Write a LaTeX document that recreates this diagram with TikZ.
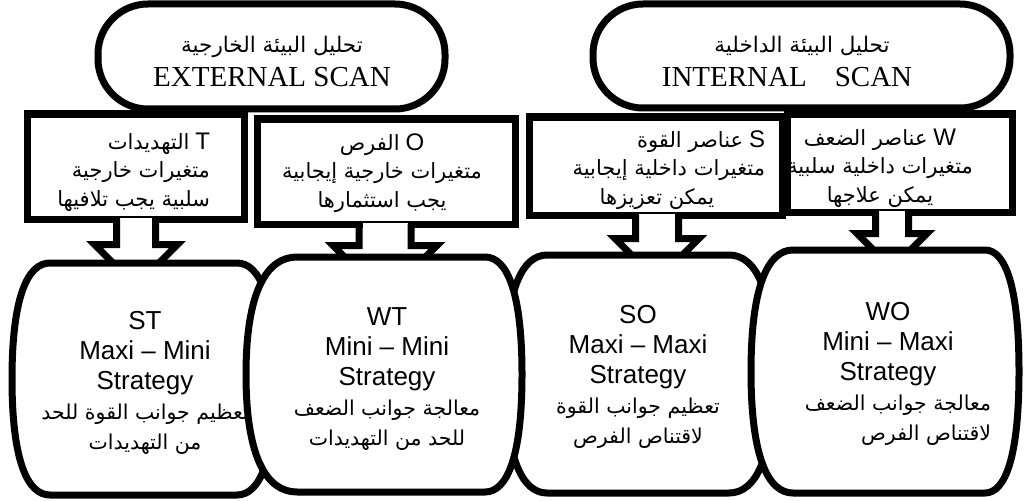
\documentclass[tikz,border=0pt]{standalone}
\usepackage{fontspec}
\setmainfont{Liberation Sans}
\newfontfamily\arabicfont[Script=Arabic]{DejaVu Sans}
\newfontfamily\enserif{Liberation Serif}
\TeXXeTstate=1
\usetikzlibrary{calc}
\newcommand\artxt[1]{{\arabicfont\beginR #1\endR}}
\newcommand\arline[1]{{\fontsize{20.5}{30}\selectfont\artxt{#1}}}
\newcommand\lat[1]{{\fontsize{24}{28}\selectfont #1}}
% barrel: #1 xL corner, #2 xR corner, #3 left bulge, #4 right bulge, #5 top, #6 bottom
\newcommand\drawbarrel[6]{%
  \path[barrelsty] (#1,#5) -- (#2,#5)
   .. controls ({#2+0.6*#4},#5) and ({#2+#4},{#5+0.15*(#6-#5)}) .. ({#2+#4},{(#5+#6)/2})
   .. controls ({#2+#4},{#6-0.15*(#6-#5)}) and ({#2+0.6*#4},#6) .. (#2,#6)
   -- (#1,#6)
   .. controls ({#1-0.6*#3},#6) and ({#1-#3},{#6-0.15*(#6-#5)}) .. ({#1-#3},{(#5+#6)/2})
   .. controls ({#1-#3},{#5+0.15*(#6-#5)}) and ({#1-0.6*#3},#5) .. cycle;}
% block arrow below a box: #1 node, #2 dx, #3 stem half, #4 drop, #5 head half
\newcommand\blockarrow[5]{%
  \fill[white] ($(#1.south)+({#2-#3+3.5},-5)$) rectangle ($(#1.south)+({#2+#3-3.5},5)$);
  \draw[arrowsty] ($(#1.south)+({#2-#3},-3.5)$) -- ++(0,{#4+3.5}) -- ++({#3-#5},0)
    -- ++(#5,#5) -- ++(#5,{-#5}) -- ++({#3-#5},0) -- ++(0,{-#4-3.5});}
\begin{document}
\begin{tikzpicture}[x=1pt,y=-1pt,
  ovalsty/.style={draw,line width=7pt,rounded corners=50pt,fill=white,inner sep=0pt},
  boxsty/.style={draw,line width=7pt,fill=white,inner sep=0pt},
  txtsty/.style={align=center,inner sep=0pt,anchor=base},
  barrelsty/.style={draw,line width=7pt,fill=white},
  arrowsty/.style={line width=7pt,line join=miter}]
\useasboundingbox (0,0) rectangle (1024,500);
\fill[white] (0,0) rectangle (1024,500);
% scan ovals
\node[ovalsty,minimum width=347pt,minimum height=105pt] (ext) at (271.5,56.5) {};
\node[ovalsty,minimum width=417pt,minimum height=104pt] (int) at (801.5,56) {};
\node[txtsty,font=\fontsize{21.5}{34}\selectfont] (exttxt) at (272,87)
  {\artxt{تحليل البيئة الخارجية}\\{\enserif\fontsize{29}{34}\selectfont EXTERNAL SCAN}};
\node[txtsty,font=\fontsize{21.5}{34}\selectfont] (inttxt) at (802,87)
  {\artxt{تحليل البيئة الداخلية}\\{\enserif\fontsize{29}{34}\selectfont INTERNAL\hspace{28pt}SCAN}\hspace*{30pt}};
% boxes
\node[boxsty,minimum width=225pt,minimum height=98pt] (W) at (899.5,163) {};
\node[boxsty,minimum width=253pt,minimum height=98pt] (S) at (655.5,166) {};
\node[boxsty,minimum width=217pt,minimum height=105pt] (T) at (135.5,166.5) {};
\node[boxsty,minimum width=258pt,minimum height=105pt] (O) at (386,171.5) {};
\node[txtsty,font=\fontsize{21}{28.5}\selectfont] (Ttxt) at (135,206)
  {\makebox[150pt][r]{\artxt{التهديدات}\ \lat{T}}\\
   \makebox[150pt][r]{\artxt{متغيرات خارجية}}\\
   \makebox[150pt][r]{\artxt{سلبية يجب تلافيها}}};
\node[txtsty,font=\fontsize{21}{28.5}\selectfont] (Otxt) at (382,207)
  {\artxt{الفرص}\ \lat{O}\\ \artxt{متغيرات خارجية إيجابية}\\ \artxt{يجب استثمارها}};
\node[txtsty,font=\fontsize{21}{28.5}\selectfont] (Stxt) at (657,204)
  {\makebox[216pt][r]{\artxt{عناصر القوة}\ \lat{S}}\\
   \makebox[216pt][r]{\artxt{متغيرات داخلية إيجابية}}\\ \artxt{يمكن تعزيزها}};
\node[txtsty,font=\fontsize{21}{28.5}\selectfont] (Wtxt) at (880,202)
  {\artxt{عناصر الضعف}\ \lat{W}\\ \artxt{متغيرات داخلية سلبية}\\ \artxt{يمكن علاجها}};
% block arrows
\blockarrow{T}{0.5}{19.5}{22}{41.5}
\blockarrow{O}{-1}{26}{18}{52}
\blockarrow{S}{1.5}{21.5}{20}{42}
\blockarrow{W}{-7.5}{16.5}{18}{35}
% strategy shapes
\drawbarrel{50}{237}{38}{38}{263}{495}
\node[txtsty,font=\fontsize{26}{30}\selectfont] (ST) at (145,449)
  {ST\\Maxi – Mini\\Strategy\\\arline{تعظيم جوانب القوة للحد}\\\arline{من التهديدات}};
\drawbarrel{547}{729}{42}{45}{255}{493}
\node[txtsty,font=\fontsize{26}{30}\selectfont] (SO) at (638,443)
  {SO\\Maxi – Maxi\\Strategy\\\arline{تعظيم جوانب القوة}\\\arline{لاقتناص الفرص}};
\drawbarrel{297}{485}{51}{37}{257}{492}
\node[txtsty,font=\fontsize{26}{30}\selectfont] (WT) at (387,445)
  {WT\\Mini – Mini\\Strategy\\\arline{معالجة جوانب الضعف}\\\arline{للحد من التهديدات}};
\drawbarrel{793}{985}{42}{34}{250}{493}
\node[txtsty,font=\fontsize{26}{30}\selectfont] (WO) at (888,440)
  {WO\\Mini – Maxi\\Strategy\\\makebox[206pt][r]{\arline{معالجة جوانب الضعف}}\\\makebox[206pt][r]{\arline{لاقتناص الفرص}}};
\end{tikzpicture}
\end{document}
